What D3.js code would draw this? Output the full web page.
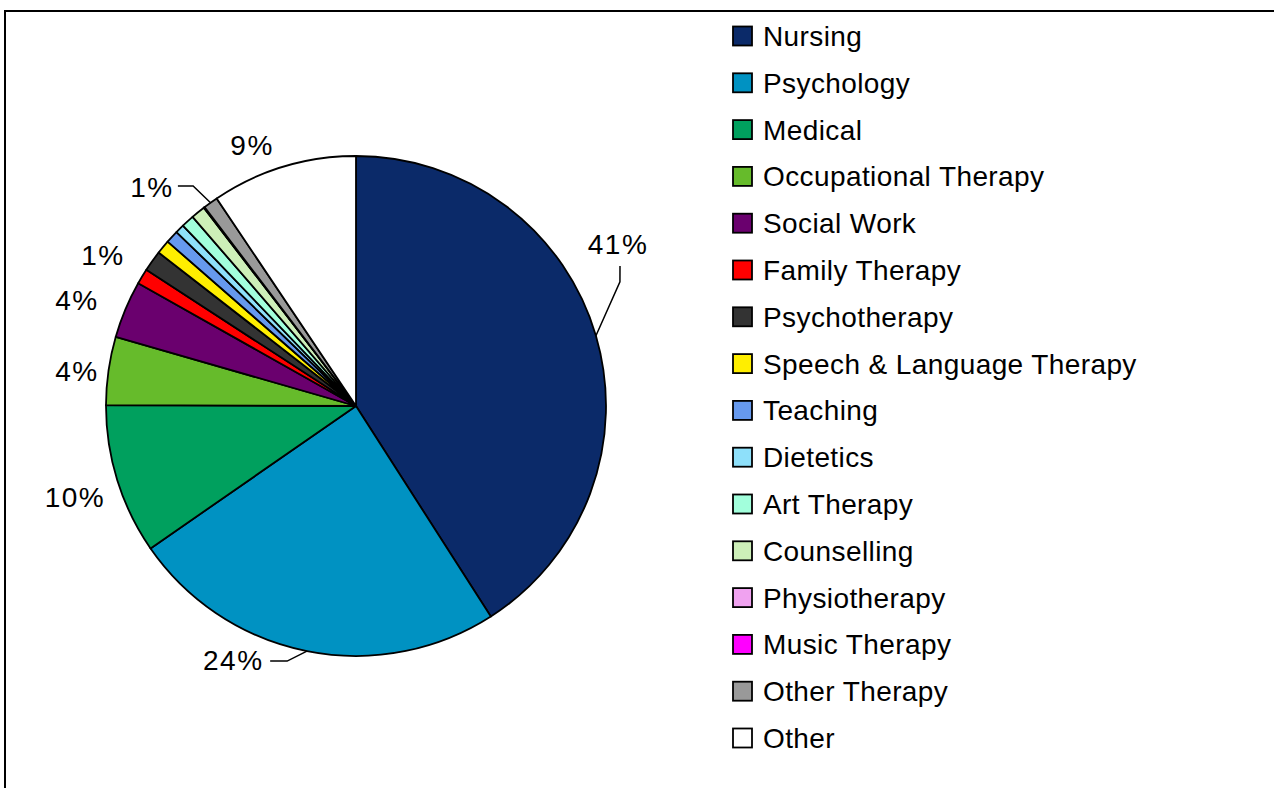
<!DOCTYPE html>
<html><head><meta charset="utf-8">
<script src="https://cdn.jsdelivr.net/npm/d3@7"></script>
<style>
html,body{margin:0;padding:0;background:#fff;}
svg{display:block;}
text{font-family:"Liberation Sans",Arial,sans-serif;fill:#000;}
</style></head>
<body>
<svg id="chart" width="1274" height="788"></svg>
<script>
// ---- data ----
const categories = ["Nursing","Psychology","Medical","Occupational Therapy","Social Work","Family Therapy","Psychotherapy","Speech & Language Therapy","Teaching","Dietetics","Art Therapy","Counselling","Physiotherapy","Music Therapy","Other Therapy","Other"];
const values = [40.9, 24.4, 9.7, 4.4, 3.7, 1.0, 1.35, 0.9, 0.83, 0.58, 0.83, 0.92, 0.03, 0.03, 0.95, 9.4];
const colors = ["#0b2a69","#0092c2","#00a05e","#66bb2b","#6a006e","#ff0000","#333333","#ffee00","#6699ee","#8ee0fa","#a2ffdc","#cdefb8","#f0a2f0","#ff00ff","#999999","#ffffff"];
const labeledCategories = ["Nursing","Psychology","Medical","Occupational Therapy","Social Work","Family Therapy","Other Therapy","Other"];

// ---- layout (label placement, polar: [angleDeg from 12 o'clock, distance]) ----
const labelPlace = {
  "Nursing":[58.3,308], "Psychology":[205.8,282], "Medical":[252.1,295.4],
  "Occupational Therapy":[277.2,281.2], "Social Work":[290.8,298.5],
  "Family Therapy":[300.8,294.6], "Other Therapy":[317.0,299.3], "Other":[338.3,281]
};
const leaderPlace = {
  "Nursing":[[64.8,291.7],[62.07,298.8]],
  "Psychology":[[195.1,264.2],[198.6,269.1]],
  "Other Therapy":[[323.5,273.8],[321.0,283]]
};

const svg = d3.select("#chart");
const cx = 356, cy = 406, R = 250;
const toXY = (deg, d) => [cx + d*Math.sin(deg*Math.PI/180), cy - d*Math.cos(deg*Math.PI/180)];

// border
svg.append("rect").attr("x",5).attr("y",11).attr("width",1320).attr("height",820)
  .attr("fill","none").attr("stroke","#000").attr("stroke-width",2);

const data = categories.map((c,i)=>({cat:c, value:values[i], color:colors[i]}));
const total = d3.sum(values);
const pie = d3.pie().value(d=>d.value).sort(null);
const arcs = pie(data);
const arc = d3.arc().innerRadius(0).outerRadius(R);

const g = svg.append("g").attr("transform",`translate(${cx},${cy})`);
g.selectAll("path").data(arcs).join("path")
  .attr("d",arc).attr("fill",d=>d.data.color)
  .attr("stroke","#000").attr("stroke-width",1.8).attr("stroke-linejoin","round");

// labels
const fmt = d3.format(".0%");
arcs.filter(a=>labeledCategories.includes(a.data.cat)).forEach(a=>{
  const p = labelPlace[a.data.cat];
  const [x,y] = toXY(p[0],p[1]);
  svg.append("text").attr("x",x).attr("y",y).attr("dy","0.36em")
    .attr("text-anchor","middle").style("font-size","28px").style("letter-spacing","1.5px")
    .text(fmt(a.data.value/total));
  const lp = leaderPlace[a.data.cat];
  if(lp){
    const mid = (a.startAngle+a.endAngle)/2*180/Math.PI;
    const pts = [toXY(mid,R), toXY(lp[0][0],lp[0][1]), toXY(lp[1][0],lp[1][1])];
    svg.append("path").attr("d",d3.line()(pts)).attr("fill","none")
      .attr("stroke","#000").attr("stroke-width",1.5);
  }
});

// legend
const legY = d3.scalePoint().domain(categories).range([36,738]);
const leg = svg.append("g");
const items = leg.selectAll("g").data(data).join("g")
  .attr("transform",d=>`translate(733,${legY(d.cat)})`);
items.append("rect").attr("x",0).attr("y",-9.5).attr("width",19).attr("height",19)
  .attr("fill",d=>d.color).attr("stroke","#000").attr("stroke-width",1.8);
items.append("text").attr("x",30).attr("y",0).attr("dy","0.36em")
  .style("font-size","28px").style("letter-spacing","0.4px").text(d=>d.cat);
</script>
</body></html>
